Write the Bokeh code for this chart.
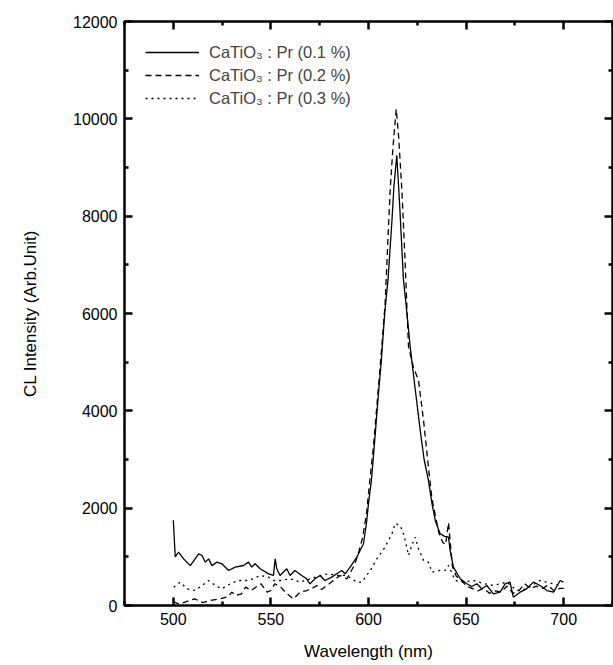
from bokeh.plotting import figure
from bokeh.models import Range1d, LinearAxis, FixedTicker, Legend, LegendItem, CustomJSTickFormatter
from bokeh.embed import file_html
from bokeh.resources import INLINE

# ---- data ----
x_01 = [500, 501, 502.7, 505.3, 508.7, 513, 514.7, 516.4, 518.1, 519.8, 522.4, 524.9, 528.3, 531.7,
        536, 538.5, 540.2, 541.9, 544.5, 548.8, 551.3, 552.2, 553, 554.7, 558.1, 559.8, 562.3, 565.8,
        568.3, 570, 572.6, 575.2, 577.7, 581.2, 583.7, 586.3, 588, 590.6, 594, 597.4, 599, 600,
        601.5, 603, 605, 606.5, 608.3, 610, 612, 613, 614.5, 616, 617.9, 619.7, 621.4, 624, 626.5,
        628.5, 630.7, 632.5, 634.2, 636.7, 639, 641, 641.8, 643.5, 647, 650.4, 652.9, 655.5, 658,
        660.6, 664, 667.4, 670, 672.5, 674.2, 677.7, 681, 684.5, 687.9, 691.4, 694.8, 698.2, 699.9]
y_01 = [1750, 1000, 1096, 958, 820, 1062, 1028, 891, 958, 820, 891, 857, 720, 788,
        822, 891, 788, 857, 754, 651, 617, 958, 754, 617, 754, 617, 720, 617,
        548, 445, 548, 617, 514, 583, 651, 720, 651, 788, 993, 1268, 1700, 2100,
        2571, 3300, 4300, 5000, 6000, 6700, 7900, 8600, 9250, 8200, 6700, 6000, 5300, 4423, 3600,
        3000, 2571, 2100, 1748, 1474, 1420, 1405, 1131, 788, 549, 446, 391, 446, 343,
        411, 240, 274, 446, 480, 171, 274, 343, 480, 411, 308, 274, 514, 480]

x_02 = [500, 503, 506, 511, 515, 519, 524, 528, 530, 532, 535, 537, 540, 543, 545, 548, 550, 552,
        555, 558, 561.6, 565, 568.5, 571, 573.6, 576, 578.7, 582, 585.5, 588.9, 591, 593, 595, 597,
        599, 600.5, 602.5, 604.5, 606.8, 608.5, 611.1, 612.5, 614.2, 615.5, 617.1, 618.5, 620.5, 623,
        625.6, 628.2, 630.7, 632.5, 634, 636, 638, 639.5, 641, 643, 645, 648, 650, 653, 656, 659,
        662, 665, 668, 671, 674, 677, 680, 683, 686, 689, 692, 695, 698, 700]
y_02 = [80, 30, 70, 137, 60, 103, 137, 180, 274, 206, 240, 377, 308, 400, 446, 274, 308, 446,
        377, 250, 137, 274, 308, 350, 411, 330, 411, 514, 617, 548, 700, 850, 1100, 1400,
        1900, 2500, 3256, 4200, 5314, 6200, 8537, 9400, 10200, 9600, 8537, 7300, 5314, 4900,
        4628, 3805, 2845, 2200, 1900, 1500, 1300, 1250, 1700, 800, 600, 500, 400, 350, 300, 350,
        250, 300, 280, 400, 250, 300, 450, 350, 400, 350, 420, 300, 350, 350]

x_03 = [500.2, 503.6, 507, 511.3, 514.7, 518, 521.5, 524.9, 529.2, 533.4, 537.7, 541, 544.5, 548.8,
        551.5, 554.8, 559.9, 565, 570.1, 575.3, 579.5, 583.8, 588.9, 594, 596.6, 600.9, 604.3,
        608.5, 612, 613.7, 616.2, 617.9, 619.6, 620.5, 622.2, 623.9, 625.6, 628.2, 630.7, 632.5,
        636.7, 639.3, 641, 644.4, 648.6, 653.8, 659, 664, 670.9, 676, 681, 687.9, 694.7, 698.2]
y_03 = [377, 480, 343, 308, 411, 514, 411, 343, 446, 514, 514, 549, 617, 583,
        514, 514, 549, 480, 549, 617, 651, 617, 617, 480, 480, 720, 960,
        1200, 1474, 1687, 1645, 1474, 1200, 1028, 1234, 1405, 1165, 925, 890, 685,
        720, 720, 823, 514, 480, 514, 450, 411, 480, 308, 343, 514, 446, 411]

labels = ["CaTiO\u2083 : Pr (0.1 %)", "CaTiO\u2083 : Pr (0.2 %)", "CaTiO\u2083 : Pr (0.3 %)"]
x_ticks = [500, 550, 600, 650, 700]
x_minor = [475, 525, 575, 625, 675, 725]
y_ticks = [0, 2000, 4000, 6000, 8000, 10000, 12000]
y_minor = [1000, 3000, 5000, 7000, 9000, 11000]

FONT = "Liberation Sans"

p = figure(width=613, height=665, output_backend="svg", toolbar_location=None,
           x_range=Range1d(475, 725), y_range=Range1d(0, 12000),
           min_border_left=124, min_border_right=1, min_border_top=21, min_border_bottom=60)
p.xgrid.visible = False
p.ygrid.visible = False
p.outline_line_color = "black"
p.outline_line_width = 2.5
p.background_fill_color = "white"
p.border_fill_color = "white"

r1 = p.line(x_01, y_01, line_color="black", line_width=1.3)
r2 = p.line(x_02, y_02, line_color="black", line_width=1.3, line_dash="6 4")
r3 = p.line(x_03, y_03, line_color="black", line_width=1.3, line_dash="2 4")

def style_axis(ax):
    ax.axis_line_color = None
    ax.major_tick_in = 8
    ax.major_tick_out = 0
    ax.minor_tick_in = 4
    ax.minor_tick_out = 0
    ax.major_tick_line_width = 2.5
    ax.minor_tick_line_width = 2.5
    ax.major_tick_line_color = "black"
    ax.minor_tick_line_color = "black"
    ax.major_label_text_font = FONT
    ax.major_label_text_font_size = "16px"
    ax.major_label_text_color = "black"
    ax.axis_label_text_font = FONT
    ax.axis_label_text_font_size = "17px"
    ax.axis_label_text_font_style = "normal"
    ax.axis_label_text_color = "black"

xa = p.xaxis[0]
xa.ticker = FixedTicker(ticks=x_ticks, minor_ticks=x_minor)
xa.axis_label = "Wavelength (nm)"
style_axis(xa)
xa.major_label_standoff = 7
xa.axis_label_standoff = 14

ya = p.yaxis[0]
ya.ticker = FixedTicker(ticks=y_ticks, minor_ticks=y_minor)
ya.axis_label = "CL Intensity (Arb.Unit)"
style_axis(ya)
ya.major_label_standoff = 7
ya.axis_label_standoff = 30

blank = CustomJSTickFormatter(code="return '';")
top = LinearAxis(ticker=FixedTicker(ticks=x_ticks, minor_ticks=x_minor), formatter=blank)
style_axis(top)
top.major_label_standoff = 0
p.add_layout(top, "above")
right = LinearAxis(ticker=FixedTicker(ticks=y_ticks, minor_ticks=y_minor), formatter=blank)
style_axis(right)
right.major_label_standoff = 0
p.add_layout(right, "right")

legend = Legend(items=[LegendItem(label=labels[0], renderers=[r1]),
                       LegendItem(label=labels[1], renderers=[r2]),
                       LegendItem(label=labels[2], renderers=[r3])],
                location="top_left")
legend.border_line_color = None
legend.background_fill_alpha = 0
legend.label_text_font = FONT
legend.label_text_font_size = "16.5px"
legend.glyph_width = 54
legend.label_standoff = 10
legend.spacing = 3
legend.margin = 21
legend.padding = 4
p.add_layout(legend)

open("out.html", "w").write(file_html(p, INLINE))
